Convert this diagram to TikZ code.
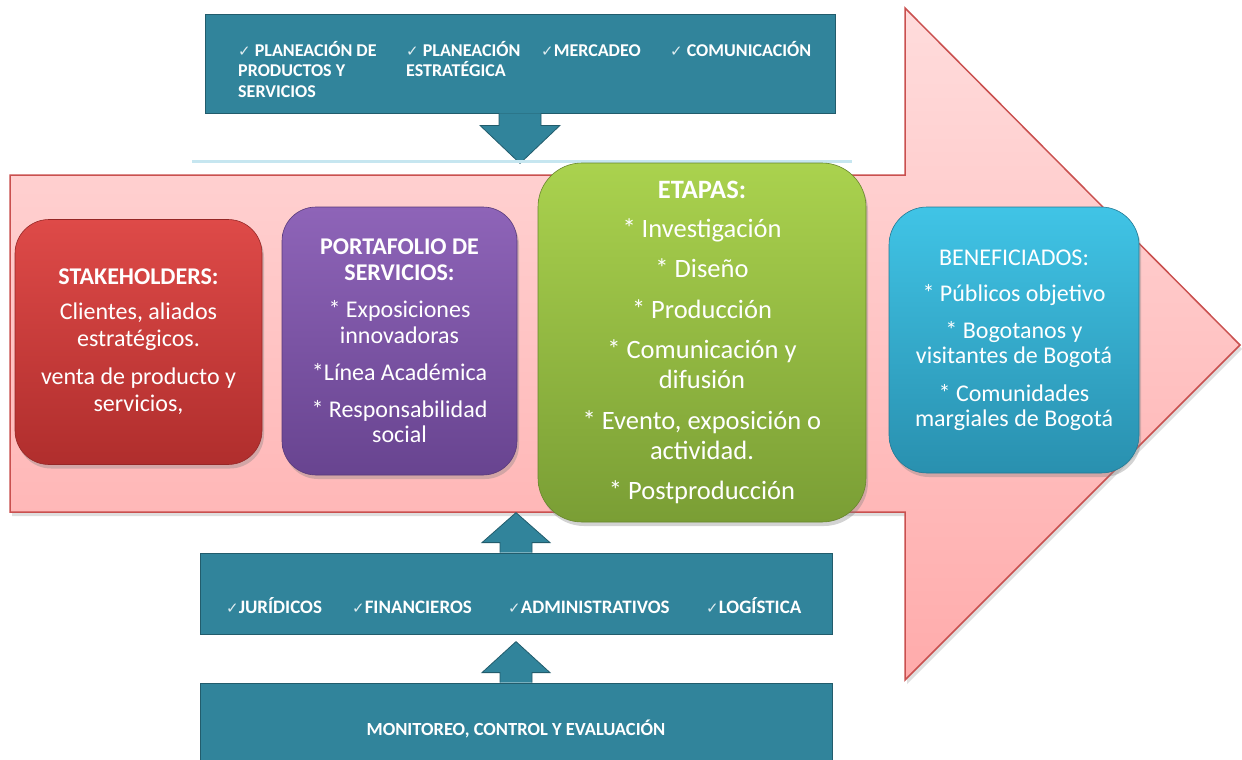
\documentclass[tikz,border=0pt]{standalone}
\usepackage{fontspec}
\setmainfont{Carlito}
\newfontfamily\checkfont{DejaVu Sans}
\usetikzlibrary{calc,shadows}
\definecolor{banner}{HTML}{31849B}
\definecolor{pinkA}{HTML}{FFDCDC}
\definecolor{pinkB}{HTML}{FFABAB}
\definecolor{pinkline}{HTML}{C9504F}
\definecolor{redA}{HTML}{DE4A48}
\definecolor{redB}{HTML}{B02E2D}
\definecolor{purA}{HTML}{8E64B8}
\definecolor{purB}{HTML}{684490}
\definecolor{grnA}{HTML}{AAD24E}
\definecolor{grnB}{HTML}{7A9E35}
\definecolor{bluA}{HTML}{40C4E6}
\definecolor{bluB}{HTML}{2990AF}
\definecolor{skyline}{HTML}{C6E6F0}
\newcommand{\chk}[1]{{\checkfont\fontsize{#1}{#1}\selectfont\color{white!85!banner}✓}}

\begin{document}
\begin{tikzpicture}[x=1pt,y=-1pt,
  banner/.style={fill=banner,draw=banner!70!black,line width=0.8pt,inner sep=0pt,text=white,font=\bfseries},
  barrow/.style={fill=banner,draw=banner!70!black,line width=0.8pt},
  item/.style={text=white,inner sep=0pt,align=left},
  box/.style 2 args={top color=#1,bottom color=#2,draw=#2!85!black,line width=0.6pt,text=white,align=center,inner sep=0pt,
    drop shadow={shadow xshift=2pt,shadow yshift=-4pt,opacity=0.35}},
  flecha/.style={top color=pinkA,bottom color=pinkB,draw=pinkline,line width=1.5pt,
    drop shadow={shadow xshift=2pt,shadow yshift=-4pt,opacity=0.25}}]
\useasboundingbox (0,0) rectangle (1242,760);

% planeacion
\node[banner,minimum width=630pt,minimum height=99pt] (plan) at (520,63.5) {};
\draw[barrow,shift={(plan.south)}] (-21,0) -- (-21,12) -- (-40,12) -- (0,50) -- (40,12) -- (21,12) -- (21,0);
\foreach \x/\t [count=\i] in %
{238/{\chk{15}\ PLANEACIÓN DE\\PRODUCTOS Y\\SERVICIOS},406/{\chk{15}\ PLANEACIÓN\\ESTRATÉGICA},541/{\chk{15}MERCADEO\vphantom{Ó}},670/{\chk{15}\ COMUNICACIÓN}} {
   \node[item,anchor=north west,font=\bfseries\fontsize{18}{20.5}\selectfont] (plan\i) at (\x,41) {\t};
}
\draw[skyline,line width=3pt] (192,161) -- (852,161);

% flecha principal
\path[flecha] (10,175) -- (905,175) -- (905,8) -- (1240,345) -- (905,680) -- (905,512) -- (10,512) -- cycle;

\node[box={redA}{redB},minimum width=247pt,minimum height=245pt,rounded corners=34pt,
  font=\fontsize{24}{27}\selectfont] (stake) at (138.5,342)
  {\textbf{STAKEHOLDERS:}\\[8pt]Clientes, aliados\\estratégicos.\\[11pt]venta de producto y\\servicios,};
\node[box={purA}{purB},minimum width=235pt,minimum height=268pt,rounded corners=34pt,
  font=\fontsize{24}{25.5}\selectfont] (porta) at (399.5,341)
  {\textbf{PORTAFOLIO DE}\\\textbf{SERVICIOS:}\\[12pt]* Exposiciones\\innovadoras\\[12pt]*Línea Académica\\[11pt]* Responsabilidad\\social};
\node[box={grnA}{grnB},minimum width=328pt,minimum height=359pt,rounded corners=44pt,
  font=\fontsize{26.5}{30}\selectfont] (etapas) at (702,342.5)
  {\textbf{ETAPAS:}\\[9pt]* Investigación\\[10pt]* Diseño\\[11pt]* Producción\\[10pt]* Comunicación y\\difusión\\[11pt]* Evento, exposición o\\actividad.\\[10pt]* Postproducción};
\node[box={bluA}{bluB},minimum width=250pt,minimum height=266pt,rounded corners=38pt,
  font=\fontsize{24}{25}\selectfont] (benef) at (1014,340)
  {BENEFICIADOS:\\[11pt]* Públicos objetivo\\[12pt]* Bogotanos y\\visitantes de Bogotá\\[13pt]* Comunidades\\margiales de Bogotá};

% soporte
\node[banner,minimum width=632pt,minimum height=81pt] (soporte) at (516,593.5) {};
\draw[barrow,shift={(soporte.north)}] (-16,0) -- (-16,-10) -- (-34,-10) -- (0,-40) -- (34,-10) -- (16,-10) -- (16,0);
\foreach \x/\t [count=\i] in %
{226/JURÍDICOS,352/FINANCIEROS,508/ADMINISTRATIVOS,706/LOGÍSTICA} {
   \node[item,anchor=base west,font=\bfseries\fontsize{19}{19}\selectfont] (sop\i) at (\x,613) {\chk{15}\t};
}

% monitoreo
\node[banner,minimum width=632pt,minimum height=92pt,font=\bfseries\fontsize{18.5}{18.5}\selectfont] (moni) at (516,729)
  {MONITOREO, CONTROL Y EVALUACIÓN};
\draw[barrow,shift={(moni.north)}] (-16,0) -- (-16,-10) -- (-34,-10) -- (0,-41) -- (34,-10) -- (16,-10) -- (16,0);
\end{tikzpicture}
\end{document}
